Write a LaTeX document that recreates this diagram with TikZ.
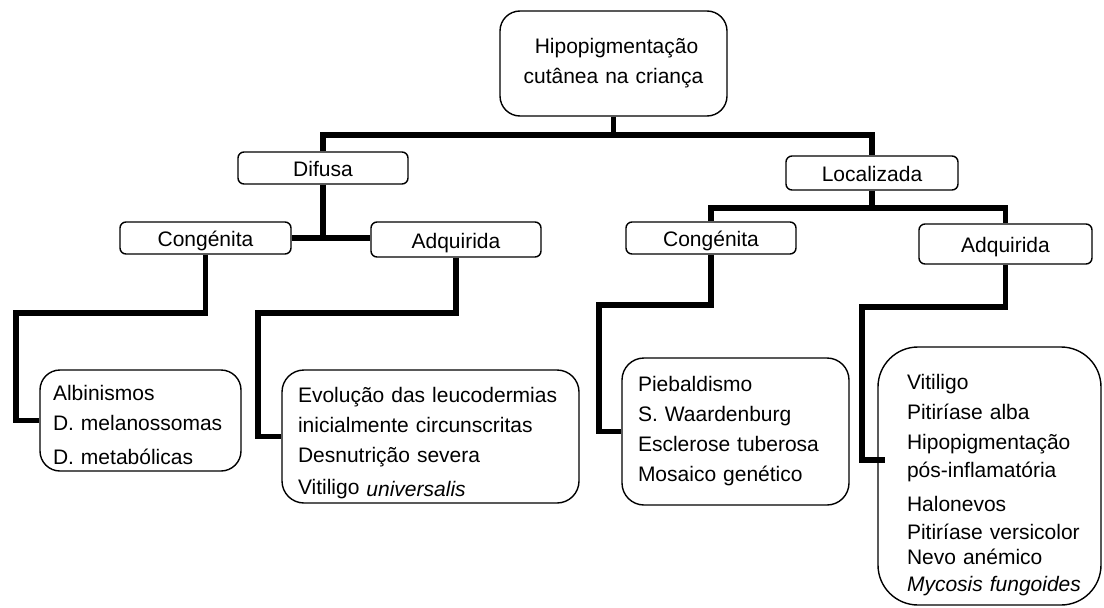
\documentclass[tikz,border=0pt]{standalone}
\usepackage{fontspec}
\setmainfont{Liberation Sans}
\hyphenpenalty=10000
\exhyphenpenalty=10000
\begin{document}
\begin{tikzpicture}[x=1pt,y=-1pt,
  every node/.style={font=\fontsize{21}{30}\selectfont},
  box/.style={draw, line width=1.4pt, rounded corners=6pt, inner sep=0pt, align=center, text height=18pt, text depth=1pt},
  listbox/.style={draw, line width=1.4pt, inner ysep=0pt, align=left},
  conn/.style={line width=5.5pt}
]
\useasboundingbox (0,0) rectangle (1104,608);

% boxes
\node[draw, line width=1.4pt, rounded corners=20pt, inner sep=0pt, align=center, minimum width=227pt, minimum height=105pt, text width=215pt] (root) at (613.5,63.5) {\hspace*{6pt}Hipopigmentação\\cutânea na criança};

\node[box, minimum width=170pt, minimum height=32pt] (difusa) at (323,168) {Difusa};
\node[box, minimum width=172pt, minimum height=34pt] (loc) at (872,173) {Localizada};
\node[box, minimum width=171pt, minimum height=32pt] (dcong) at (205.5,238) {Congénita};
\node[box, minimum width=170pt, minimum height=35pt] (dadq) at (456,239.5) {Adquirida};
\node[box, minimum width=170pt, minimum height=32pt] (lcong) at (711,238) {Congénita};
\node[box, minimum width=173pt, minimum height=40pt] (ladq) at (1005.5,244) {Adquirida};

\node[listbox, rounded corners=20pt, minimum width=201pt, minimum height=101pt, text width=175pt, inner xsep=13pt] (alb) at (140.5,420.5)
  {\rule{0pt}{25pt}Albinismos\\D. melanossomas\\[4pt]D. metabólicas};
\node[listbox, rounded corners=22pt, minimum width=297pt, minimum height=133pt, text width=265pt, inner xsep=16pt] (evo) at (430.5,436.5)
  {\rule{0pt}{29pt}Evolução das leucodermias\\inicialmente circunscritas\\Desnutrição severa\\[2pt]Vitiligo \raisebox{-2pt}{\itshape universalis}};
\node[listbox, rounded corners=22pt, minimum width=227pt, minimum height=147pt, text width=195pt, inner xsep=16pt] (pieb) at (735.5,431.5)
  {Piebaldismo\\S. Waardenburg\\Esclerose tuberosa\\Mosaico genético};
\node[listbox, rounded corners=40pt, minimum width=223pt, minimum height=258pt, text width=165pt, inner xsep=29pt] (lab) at (989.5,476)
  {\rule{0pt}{33pt}Vitiligo\\Pitiríase alba\\Hipopigmentação\\[-2pt]pós-inflamatória\\[4pt]Halonevos\\[-2pt]Pitiríase~versicolor\\[-5pt]Nevo anémico\\[-3pt]{\itshape Mycosis~fungoides}};

% connectors
\coordinate (rj) at (615,135);
\draw[conn] (root.south) -- (root.south |- rj);
\draw[conn] (difusa.north) |- (rj) -| (loc.north);

\draw[conn] (difusa.south) -- (difusa.south |- dcong.east);
\draw[conn] (dcong.east) -- (dcong.east -| dadq.west);

\coordinate (lj) at (872,208);
\draw[conn] (loc.south) -- (lj);
\draw[conn] (lcong.north) |- (lj) -| (ladq.north);

\coordinate (c1) at (16,313);
\draw[conn] (dcong.south) |- (c1) |- (alb.west);
\coordinate (c2) at (258,313);
\draw[conn] (dadq.south) |- (c2) |- (evo.west);
\coordinate (c3) at (599,305);
\draw[conn] (lcong.south) |- (c3) |- (pieb.west);
\coordinate (c4) at (862,307);
\coordinate (e4) at (885,460);
\draw[conn] (ladq.south) |- (c4) |- (e4);
\end{tikzpicture}
\end{document}
